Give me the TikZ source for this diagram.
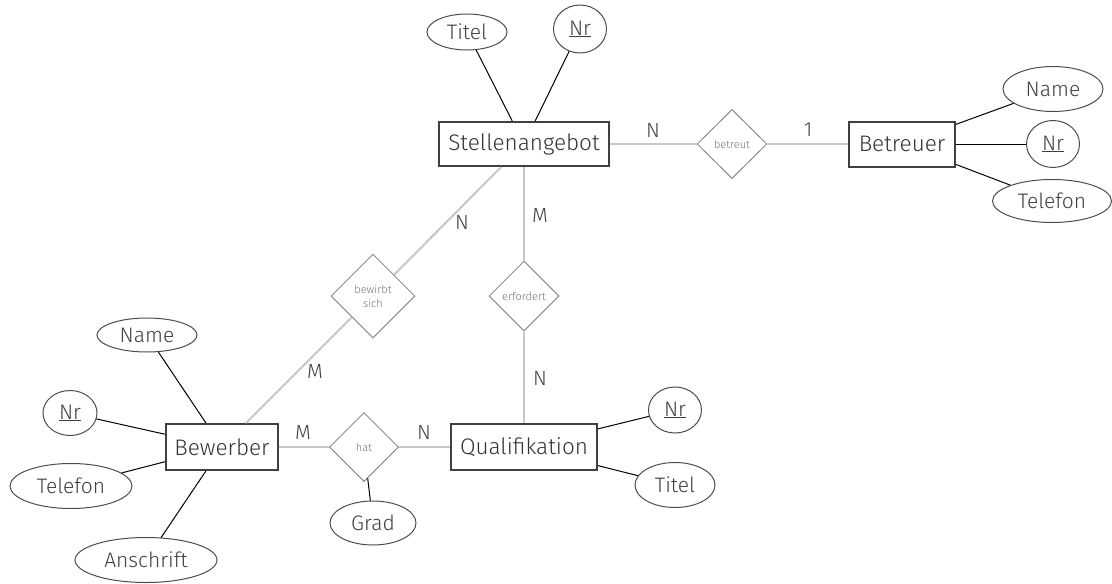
\documentclass[tikz,border=0pt]{standalone}
\usepackage{fontspec}
\setmainfont{Fira Sans}[UprightFont={* Light}]
\usetikzlibrary{shapes.geometric}
\begin{document}
\begin{tikzpicture}[x=1pt,y=-1pt,
 entity/.style={draw=black!75, line width=2pt, rectangle, inner sep=0pt, font=\fontsize{22.5}{26}\selectfont, text=black!80},
 attr/.style={draw=black!70, line width=1pt, ellipse, inner sep=0pt, font=\fontsize{21}{24}\selectfont, text=black!75},
 rel/.style={draw=black!45, line width=1pt, diamond, inner sep=0pt, font=\fontsize{11}{14}\selectfont, text=black!55, align=center},
 attrline/.style={black, line width=1pt},
 relline/.style={black!22, line width=2pt},
 card/.style={font=\fontsize{20.5}{24}\selectfont, text=black!75, inner sep=0pt}]
\useasboundingbox (0,0) rectangle (1112,584);
% entities
\node[entity, minimum width=170, minimum height=44] (stellen) at (524,144) {Stellenangebot};
\node[entity, minimum width=106, minimum height=45] (betreuer) at (902,144) {Betreuer};
\node[entity, minimum width=112, minimum height=46] (bewerber) at (222,447) {Bewerber};
\node[entity, minimum width=146, minimum height=46] (qual) at (524,447) {Qualifikation};
% relationships
\node[rel, minimum width=70, minimum height=69] (betreut) at (732,144) {betreut};
\node[rel, minimum width=84, minimum height=84] (bewirbt) at (373,296) {bewirbt\\sich};
\node[rel, minimum width=70, minimum height=70] (erfordert) at (524,296) {erfordert};
\node[rel, minimum width=69, minimum height=69] (hat) at (364,447) {hat};
% attributes
\node[attr, minimum width=80, minimum height=36] (sttitel) at (467,32) {Titel};
\node[attr, minimum width=53, minimum height=48] (stnr) at (580,29) {\underline{Nr}};
\node[attr, minimum width=100, minimum height=45] (btname) at (1053,89) {Name};
\node[attr, minimum width=53, minimum height=47] (btnr) at (1053,144) {\underline{Nr}};
\node[attr, minimum width=119, minimum height=43] (bttel) at (1052,201) {Telefon};
\node[attr, minimum width=100, minimum height=34] (bwname) at (147,335) {Name};
\node[attr, minimum width=54, minimum height=45] (bwnr) at (70,413) {\underline{Nr}};
\node[attr, minimum width=122, minimum height=45] (bwtel) at (71,486) {Telefon};
\node[attr, minimum width=142, minimum height=45] (bwan) at (146,560) {Anschrift};
\node[attr, minimum width=86, minimum height=44] (grad) at (373,523) {Grad};
\node[attr, minimum width=53, minimum height=46] (qnr) at (675,410) {\underline{Nr}};
\node[attr, minimum width=80, minimum height=45] (qtitel) at (675,485) {Titel};
% relationship lines
\draw[relline] (stellen) -- (betreut) -- (betreuer);
\draw[relline] (stellen) -- (bewirbt) -- (bewerber);
\draw[relline] (stellen) -- (erfordert) -- (qual);
\draw[relline] (bewerber) -- (hat) -- (qual);
% attribute lines
\draw[attrline] (sttitel) -- (stellen);
\draw[attrline] (stnr) -- (stellen);
\draw[attrline] (btname) -- (betreuer);
\draw[attrline] (btnr) -- (betreuer);
\draw[attrline] (bttel) -- (betreuer);
\draw[attrline] (bwname) -- (bewerber);
\draw[attrline] (bwnr) -- (bewerber);
\draw[attrline] (bwtel) -- (bewerber);
\draw[attrline] (bwan) -- (bewerber);
\draw[attrline] (hat) -- (grad);
\draw[attrline] (qnr) -- (qual);
\draw[attrline] (qtitel) -- (qual);
% cardinalities
\node[card] (c1) at (653,130) {N};
\node[card] (c2) at (808,130) {1};
\node[card] (c3) at (462,222) {N};
\node[card] (c4) at (540,215) {M};
\node[card] (c5) at (315,371) {M};
\node[card] (c6) at (303,432) {M};
\node[card] (c7) at (424,432) {N};
\node[card] (c8) at (540,378) {N};
\end{tikzpicture}
\end{document}
